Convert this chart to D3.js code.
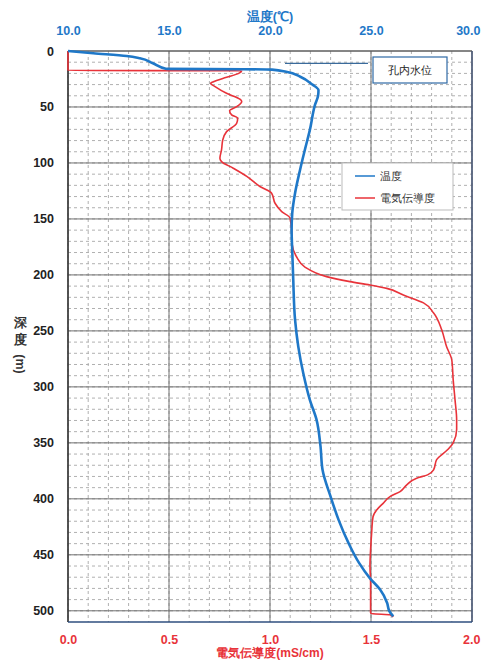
<!DOCTYPE html>
<html>
<head>
<meta charset="utf-8">
<script src="https://cdn.jsdelivr.net/npm/d3@7"></script>
<style>
  body { margin: 0; background: #fff; }
  svg { display: block; font-family: 'Liberation Sans', Arial, sans-serif; }
</style>
</head>
<body>
<div id="chart"></div>
<script>
// depth profile: temperature (blue) and electric conductivity (red)
const depthTicks = [0, 50, 100, 150, 200, 250, 300, 350, 400, 450, 500]
const tempTicks = [10, 15, 20, 25, 30]
const ecTicks = [0, 0.5, 1, 1.5, 2]

const tempDepth = [0, 2, 4.5, 6.5, 11, 16, 16.3, 16.6, 18.5, 23, 30, 35, 40, 48, 70, 88, 106, 127, 145, 160, 178, 204, 240, 264, 288, 312, 329, 353, 374, 398, 419, 440, 457, 471, 481, 493, 500, 505]
const tempValue = [10, 11.25, 12.9, 13.56, 14.2, 14.88, 18.7, 20.1, 20.8, 21.5, 22.1, 22.4, 22.38, 22.23, 21.98, 21.73, 21.49, 21.24, 21.1, 21.07, 21.1, 21.15, 21.24, 21.4, 21.65, 21.98, 22.3, 22.5, 22.6, 23.0, 23.4, 23.9, 24.4, 24.95, 25.45, 25.8, 25.9, 26.1]

const ecDepth = [0, 17.5, 17.6, 20, 23.5, 27.4, 29, 31.8, 37.8, 43, 45, 49.7, 53.3, 57, 60, 64.6, 72, 79.5, 88.4, 95.8, 98.8, 104.7, 112, 121, 127, 136, 143.5, 149, 160, 173, 184, 193, 201.5, 206, 209, 212, 218, 225, 234, 249, 264, 276, 294, 311.6, 329.5, 338, 350, 356, 365, 374, 378.6, 381.5, 387.5, 393.5, 398, 404, 410, 416, 431, 445.5, 460, 475, 490, 502, 502.7, 503.6, 505.6]
const ecValue = [0, 0, 0.86, 0.845, 0.785, 0.72, 0.706, 0.728, 0.785, 0.851, 0.86, 0.835, 0.8, 0.81, 0.84, 0.835, 0.785, 0.766, 0.76, 0.752, 0.76, 0.818, 0.885, 0.95, 1.008, 1.025, 1.058, 1.099, 1.107, 1.11, 1.132, 1.173, 1.28, 1.396, 1.495, 1.578, 1.66, 1.76, 1.81, 1.85, 1.874, 1.9, 1.907, 1.916, 1.924, 1.924, 1.907, 1.88, 1.825, 1.81, 1.78, 1.726, 1.677, 1.644, 1.594, 1.56, 1.528, 1.51, 1.503, 1.498, 1.495, 1.498, 1.498, 1.498, 1.51, 1.594, 1.61]

const waterLevelDepth = 11

const width = 481,
  height = 660,
  blue = '#1f78c8',
  red = '#e8333a'

const svg = d3
  .select('#chart')
  .append('svg')
  .attr('width', width)
  .attr('height', height)

const x = d3.scaleLinear().domain([0, 2]).range([68, 472])
const xT = d3.scaleLinear().domain([10, 30]).range([68, 472])
const y = d3.scaleLinear().domain([0, 510]).range([51, 622])

// grid
const grid = svg.append('g')
grid
  .selectAll('.vminor')
  .data(d3.range(0, 2.0001, 0.1))
  .enter()
  .append('line')
  .attr('x1', d => x(d))
  .attr('x2', d => x(d))
  .attr('y1', y(0))
  .attr('y2', y(510))
  .attr('stroke', '#b0b0b0')
  .attr('stroke-dasharray', '3,3')
grid
  .selectAll('.hminor')
  .data(d3.range(10, 510, 10))
  .enter()
  .append('line')
  .attr('x1', x(0))
  .attr('x2', x(2))
  .attr('y1', d => y(d))
  .attr('y2', d => y(d))
  .attr('stroke', '#b0b0b0')
  .attr('stroke-dasharray', '3,3')
grid
  .selectAll('.vmajor')
  .data(ecTicks)
  .enter()
  .append('line')
  .attr('x1', d => x(d))
  .attr('x2', d => x(d))
  .attr('y1', y(0))
  .attr('y2', y(510))
  .attr('stroke', '#707070')
grid
  .selectAll('.hmajor')
  .data(depthTicks)
  .enter()
  .append('line')
  .attr('x1', x(0))
  .attr('x2', x(2))
  .attr('y1', d => y(d))
  .attr('y2', d => y(d))
  .attr('stroke', '#707070')

// frame
svg.append('line').attr('x1', x(0)).attr('x2', x(2)).attr('y1', y(0)).attr('y2', y(0)).attr('stroke', '#555')
svg.append('line').attr('x1', x(0)).attr('x2', x(0)).attr('y1', y(0)).attr('y2', y(510)).attr('stroke', '#333').attr('stroke-width', 1.5)
svg.append('line').attr('x1', x(2)).attr('x2', x(2)).attr('y1', y(0)).attr('y2', y(510)).attr('stroke', '#4a5a7a').attr('stroke-width', 1.5)
svg.append('line').attr('x1', x(0)).attr('x2', x(2)).attr('y1', y(510)).attr('y2', y(510)).attr('stroke', '#2f4f7f').attr('stroke-width', 1.5)

// water level callout
svg
  .append('line')
  .attr('x1', 285)
  .attr('x2', 368)
  .attr('y1', y(waterLevelDepth))
  .attr('y2', y(waterLevelDepth))
  .attr('stroke', '#3a6b9c')
  .attr('stroke-width', 1.2)
svg
  .append('rect')
  .attr('x', 373)
  .attr('y', 57)
  .attr('width', 74)
  .attr('height', 26)
  .attr('fill', '#fff')
  .attr('stroke', '#2f6aa6')
  .attr('stroke-width', 1.2)
svg
  .append('text')
  .attr('x', 410)
  .attr('y', 74)
  .attr('text-anchor', 'middle')
  .attr('font-size', 11)
  .attr('fill', '#222')
  .text('孔内水位')

// lines
const tempLine = d3
  .line()
  .curve(d3.curveMonotoneY)
  .x(d => xT(d[1]))
  .y(d => y(d[0]))
const ecLine = d3
  .line()
  .curve(d3.curveMonotoneY)
  .x(d => x(d[1]))
  .y(d => y(d[0]))

svg
  .append('path')
  .attr('d', ecLine(d3.zip(ecDepth, ecValue)))
  .attr('fill', 'none')
  .attr('stroke', red)
  .attr('stroke-width', 1.6)
svg
  .append('path')
  .attr('d', tempLine(d3.zip(tempDepth, tempValue)))
  .attr('fill', 'none')
  .attr('stroke', blue)
  .attr('stroke-width', 2.6)
  .attr('stroke-linejoin', 'round')

// axes
const yAxis = svg
  .append('g')
  .attr('transform', 'translate(' + (x(0) - 11) + ',0)')
  .call(d3.axisLeft(y).tickValues(depthTicks).tickSize(0))
yAxis.select('.domain').remove()
yAxis
  .selectAll('text')
  .attr('font-size', 12.5)
  .attr('font-weight', 'bold')
  .attr('fill', '#222')
  .attr('font-family', "'Liberation Sans', Arial, sans-serif")

const topAxis = svg
  .append('g')
  .attr('transform', 'translate(0,38)')
  .call(d3.axisTop(xT).tickValues(tempTicks).tickSize(0).tickFormat(d3.format('.1f')))
topAxis.select('.domain').remove()
topAxis
  .selectAll('text')
  .attr('font-size', 12.5)
  .attr('font-weight', 'bold')
  .attr('fill', blue)
  .attr('font-family', "'Liberation Sans', Arial, sans-serif")
// last label sits on the right edge
topAxis
  .selectAll('.tick:last-of-type text')
  .attr('text-anchor', 'end')
  .attr('x', 480 - xT(30))

const bottomAxis = svg
  .append('g')
  .attr('transform', 'translate(0,632)')
  .call(d3.axisBottom(x).tickValues(ecTicks).tickSize(0).tickFormat(d3.format('.1f')))
bottomAxis.select('.domain').remove()
bottomAxis
  .selectAll('text')
  .attr('font-size', 12.5)
  .attr('font-weight', 'bold')
  .attr('fill', red)
  .attr('font-family', "'Liberation Sans', Arial, sans-serif")
bottomAxis
  .selectAll('.tick:last-of-type text')
  .attr('text-anchor', 'end')
  .attr('x', 480 - x(2))

// axis titles
svg
  .append('text')
  .attr('x', 270)
  .attr('y', 21)
  .attr('text-anchor', 'middle')
  .attr('font-size', 12.5)
  .attr('font-weight', 'bold')
  .attr('fill', blue)
  .text('温度(℃)')
svg
  .append('text')
  .attr('x', 270)
  .attr('y', 657)
  .attr('text-anchor', 'middle')
  .attr('font-size', 12)
  .attr('font-weight', 'bold')
  .attr('fill', red)
  .text('電気伝導度(mS/cm)')

const yTitle = svg.append('g').attr('fill', '#333').attr('font-size', 12.5).attr('font-weight', 'bold')
yTitle.append('text').attr('x', 20).attr('y', 327).attr('text-anchor', 'middle').text('深')
yTitle.append('text').attr('x', 20).attr('y', 344).attr('text-anchor', 'middle').text('度')
yTitle
  .append('text')
  .attr('transform', 'translate(16,364)rotate(90)')
  .attr('text-anchor', 'middle')
  .text('(m)')

// legend
const legendItems = ['温度', '電気伝導度']
const legendColors = [blue, red]
svg
  .append('rect')
  .attr('x', 342)
  .attr('y', 163)
  .attr('width', 111)
  .attr('height', 47)
  .attr('fill', '#fff')
  .attr('stroke', '#bbb')
const legend = svg
  .append('g')
  .selectAll('g')
  .data(legendItems)
  .enter()
  .append('g')
  .attr('transform', (d, i) => 'translate(355,' + (176 + i * 22) + ')')
legend
  .append('line')
  .attr('x2', 20)
  .attr('stroke', (d, i) => legendColors[i])
  .attr('stroke-width', 1.5)
legend
  .append('text')
  .attr('x', 25)
  .attr('dy', '0.35em')
  .attr('font-size', 11)
  .attr('fill', '#333')
  .text(d => d)
</script>
</body>
</html>
